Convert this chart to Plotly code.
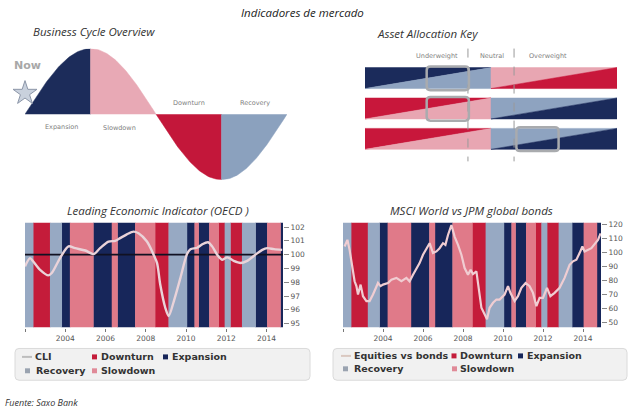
import numpy as np
import plotly.graph_objects as go

W, H = 635, 412
def px(x): return x / W
def py(y): return 1 - y / H

# ---------------- data ----------------
# Business cycle schematic
cycle_phases = ["Expansion", "Slowdown", "Downturn", "Recovery"]
now_phase_position = 0.0          # position of the "Now" star on the cycle (radians)

# Asset allocation key
assets = ["Bonds", "Credit", "Equities"]
stances = ["Underweight", "Neutral", "Overweight"]
stance_scale = [0.57, 1.01, 1.45]             # where stance headers sit on 0..2 scale
stance_dividers = [0.817, 1.183]
current_position = [0.657, 0.657, 1.369]       # highlighted box centre per asset
# two-tone halves (upper-left, lower-right) per asset, as phase names
left_half = [("Expansion", "Recovery"), ("Downturn", "Slowdown"), ("Downturn", "Slowdown")]
right_half = [("Slowdown", "Downturn"), ("Recovery", "Expansion"), ("Recovery", "Expansion")]

# Phase bands (shared by both bottom charts)
phase_edges = [2002.0, 2002.41, 2003.25, 2003.83, 2004.24, 2005.40, 2006.32, 2006.60,
               2007.48, 2008.47, 2009.14, 2010.05, 2010.43, 2010.63, 2011.16, 2011.63,
               2011.93, 2012.21, 2012.79, 2013.46, 2014.04, 2014.70, 2014.95]
phase_seq = ["Recovery", "Downturn", "Recovery", "Expansion", "Slowdown", "Expansion",
             "Slowdown", "Expansion", "Slowdown", "Downturn", "Recovery", "Expansion",
             "Slowdown", "Expansion", "Slowdown", "Downturn", "Recovery", "Downturn",
             "Recovery", "Expansion", "Slowdown", "Expansion"]

# OECD CLI
cli_x = [2002.00, 2002.25, 2002.41, 2002.75, 2003.16, 2003.33, 2003.74, 2004.16, 2004.49,
         2005.00, 2005.40, 2005.73, 2006.15, 2006.48, 2006.73, 2007.06, 2007.39, 2007.64,
         2008.06, 2008.39, 2008.56, 2008.72, 2008.97, 2009.14, 2009.39, 2009.72, 2010.05,
         2010.22, 2010.55, 2010.80, 2011.10, 2011.30, 2011.55, 2011.80, 2012.05, 2012.37,
         2012.71, 2013.04, 2013.45, 2013.79, 2014.04, 2014.37, 2014.78]
cli_y = [99.15, 99.75, 99.5, 98.9, 98.5, 98.67, 99.75, 100.6, 100.47,
         100.3, 100.04, 100.47, 100.95, 101.0, 101.2, 101.47, 101.67, 101.55,
         100.95, 100.0, 99.4, 97.83, 96.15, 95.55, 96.6, 98.3, 100.04,
         100.4, 100.5, 100.75, 100.9, 100.6, 100.0, 99.63, 99.8, 99.55,
         99.4, 99.55, 100.0, 100.35, 100.47, 100.4, 100.35]
cli_reference = 100

# MSCI World vs JPM global bonds
eq_x = [2002.08, 2002.22, 2002.33, 2002.45, 2002.58, 2002.67, 2002.75, 2002.88, 2003.00,
        2003.17, 2003.33, 2003.50, 2003.67, 2003.75, 2003.88, 2004.00, 2004.25, 2004.42,
        2004.67, 2004.92, 2005.17, 2005.33, 2005.50, 2005.67, 2005.83, 2006.00, 2006.17,
        2006.33, 2006.50, 2006.67, 2006.83, 2007.00, 2007.12, 2007.25, 2007.42, 2007.50,
        2007.58, 2007.75, 2007.92, 2008.08, 2008.25, 2008.38, 2008.50, 2008.67, 2008.80,
        2008.92, 2009.08, 2009.20, 2009.33, 2009.50, 2009.67, 2009.83, 2010.08, 2010.25,
        2010.37, 2010.58, 2010.75, 2010.92, 2011.13, 2011.33, 2011.50, 2011.67, 2011.83,
        2012.00, 2012.20, 2012.37, 2012.58, 2012.83, 2013.08, 2013.33, 2013.50, 2013.67,
        2013.83, 2013.97, 2014.08, 2014.25, 2014.42, 2014.58, 2014.75, 2014.88]
eq_y = [104.2, 109.0, 101.8, 91.1, 79.3, 75.8, 69.8, 76.9, 68.6,
        65.1, 65.1, 69.8, 75.8, 78.1, 75.8, 76.9, 78.1, 80.5,
        81.7, 79.3, 81.7, 79.3, 84.0, 88.8, 92.3, 98.3, 103.0,
        106.6, 99.5, 100.7, 103.0, 106.6, 105.4, 112.5, 119.6, 114.9,
        111.3, 105.4, 98.3, 88.8, 84.0, 87.6, 84.5, 86.4, 72.2,
        60.3, 55.6, 52.0, 60.3, 63.9, 66.2, 66.2, 69.8, 75.8,
        71.0, 65.1, 68.6, 74.6, 78.1, 75.8, 71.0, 61.5, 67.4,
        67.4, 74.6, 68.6, 71.0, 74.6, 81.7, 91.1, 93.6, 94.7,
        99.5, 104.2, 100.7, 101.8, 103.0, 105.9, 108.9, 113.7]

year_ticks = [2002, 2004, 2006, 2008, 2010, 2012, 2014]
year_labels = ["", "2004", "2006", "2008", "2010", "2012", "2014"]
cli_ticks = [95, 96, 97, 98, 99, 100, 101, 102]
eq_ticks = [50, 60, 70, 80, 90, 100, 110, 120]

# ---------------- styles ----------------
cycle_colors = {"Expansion": "#1c2c5a", "Slowdown": "#e8a9b5",
                "Downturn": "#c3173a", "Recovery": "#8ba1be"}
key_colors = {"Expansion": "#1b2b5b", "Slowdown": "#e8a6b2",
              "Downturn": "#c8173b", "Recovery": "#8ea3c0"}
band_colors = {"Downturn": "#c41c3a", "Expansion": "#17265a",
               "Recovery": "#97a9c3", "Slowdown": "#e07a89"}

TITLE = dict(family="Open Sans", size=11.5, color="#333333", style="italic")
SMALL = dict(family="DejaVu Sans", size=6.5, color="#808080")
TICK = dict(family="DejaVu Sans", size=7.5, color="#555555")
LEG = dict(family="DejaVu Sans", size=9.5, color="#333333", weight="bold")

fig = go.Figure()

# ---------------- business cycle ----------------
for k, ph in enumerate(cycle_phases):
    t = np.linspace(k * np.pi / 2, (k + 1) * np.pi / 2, 60)
    xs = np.concatenate([[t[0]], t, [t[-1]]])
    ys = np.concatenate([[0], np.sin(t), [0]])
    fig.add_trace(go.Scatter(x=xs, y=ys, fill="toself", mode="lines",
                             line=dict(width=0.5, color=cycle_colors[ph]),
                             fillcolor=cycle_colors[ph], xaxis="x3", yaxis="y3",
                             showlegend=False, hoverinfo="skip"))
fig.add_trace(go.Scatter(x=[now_phase_position], y=[0.32], mode="markers",
                         marker=dict(symbol="star", size=18, color="#c9d1dd",
                                     line=dict(color="#8c96a8", width=1)),
                         xaxis="x3", yaxis="y3", cliponaxis=False,
                         showlegend=False, hoverinfo="skip"))

ann = []
def A(text, x, y, font, xref="paper", yref="paper", xanchor="center", yanchor="middle"):
    ann.append(dict(text=text, x=x, y=y, xref=xref, yref=yref, showarrow=False,
                    font=font, xanchor=xanchor, yanchor=yanchor))

cyc_label_xy = [(0.887, -0.20), (2.26, -0.21), (3.93, 0.17), (5.52, 0.17)]
for ph, (lx, ly) in zip(cycle_phases, cyc_label_xy):
    A(ph, lx, ly, SMALL, "x3", "y3")
A("Now", 0.07, 0.74, dict(family="DejaVu Sans", size=11, color="#a8a8a8", weight="bold"),
  "x3", "y3")

# ---------------- asset allocation key ----------------
hh = 0.345
for i, asset in enumerate(assets):
    top, bot = i - hh, i + hh
    for h, pair in ((0, left_half[i]), (1, right_half[i])):
        ul, lr = pair
        fig.add_trace(go.Scatter(x=[h, h, h + 1, h], y=[bot, top, top, bot], fill="toself",
                                 mode="lines", line=dict(width=0.5, color=key_colors[ul]),
                                 fillcolor=key_colors[ul], xaxis="x4", yaxis="y4",
                                 showlegend=False, hoverinfo="skip"))
        fig.add_trace(go.Scatter(x=[h, h + 1, h + 1, h], y=[bot, top, bot, bot], fill="toself",
                                 mode="lines", line=dict(width=0.5, color=key_colors[lr]),
                                 fillcolor=key_colors[lr], xaxis="x4", yaxis="y4",
                                 showlegend=False, hoverinfo="skip"))
    A(asset, -0.262, i - 0.1, SMALL, "x4", "y4", xanchor="left")

for s, sx in zip(stances, stance_scale):
    A(s, sx, -0.74, SMALL, "x4", "y4")

shapes = []
for dx in stance_dividers:
    shapes.append(dict(type="line", xref="x4", yref="y4", x0=dx, x1=dx, y0=-0.97, y1=2.74,
                       line=dict(color="#9a9a9a", width=1, dash="dash"), layer="above"))

def rpath(x0, y0, x1, y1, rx, ry):
    return (f"M {x0+rx},{y0} L {x1-rx},{y0} Q {x1},{y0} {x1},{y0+ry} "
            f"L {x1},{y1-ry} Q {x1},{y1} {x1-rx},{y1} L {x0+rx},{y1} "
            f"Q {x0},{y1} {x0},{y1-ry} L {x0},{y0+ry} Q {x0},{y0} {x0+rx},{y0} Z")

bw = 0.335
for i, c in enumerate(current_position):
    shapes.append(dict(type="path", xref="x4", yref="y4",
                       path=rpath(c - bw / 2, i - 0.38, c + bw / 2, i + 0.40, 0.03, 0.12),
                       line=dict(color="#a9abae", width=2.5), layer="above"))

# ---------------- bottom charts ----------------
seam = 0.02   # small overlap so neighbouring bands leave no hairline gaps
charts = [("x", "y", [94.71, 102.34]), ("x2", "y2", [46.1, 121.5])]
for xa, ya, (lo, hi) in charts:
    for ph in ["Downturn", "Expansion", "Recovery", "Slowdown"]:
        idx = [i for i, p in enumerate(phase_seq) if p == ph]
        centers = [(phase_edges[i] + phase_edges[i + 1]) / 2 for i in idx]
        widths = [phase_edges[i + 1] - phase_edges[i] + seam for i in idx]
        fig.add_trace(go.Bar(x=centers, y=[hi - lo] * len(idx), base=lo, width=widths,
                             marker=dict(color=band_colors[ph], line=dict(width=0)),
                             xaxis=xa, yaxis=ya, showlegend=False, hoverinfo="skip"))

xr_left = [2002.0, 2014.82]
xr_right = [2002.0, 2014.9]
fig.add_trace(go.Scatter(x=xr_left, y=[cli_reference, cli_reference], mode="lines",
                         line=dict(color="#111122", width=1.6), xaxis="x", yaxis="y",
                         showlegend=False, hoverinfo="skip"))
fig.add_trace(go.Scatter(x=cli_x, y=cli_y, mode="lines",
                         line=dict(color="#ead3d9", width=2.4, shape="spline", smoothing=0.8),
                         xaxis="x", yaxis="y", showlegend=False, name="CLI"))
fig.add_trace(go.Scatter(x=eq_x, y=eq_y, mode="lines",
                         line=dict(color="#f0cdd2", width=2.2),
                         xaxis="x2", yaxis="y2", showlegend=False, name="Equities vs bonds"))

# titles
A("Indicadores de mercado", px(302.5), py(11), dict(TITLE, color="#222222"))
A("Business Cycle Overview", px(93.5), py(29.5), TITLE)
A("Asset Allocation Key", px(427.5), py(31.5), TITLE)
A("Leading Economic Indicator (OECD )", px(158), py(210), TITLE)
A("MSCI World vs JPM global bonds", px(471.5), py(210), TITLE)
A("Fuente: Saxo Bank", px(3), py(403), dict(family="Open Sans", size=9, color="#333333",
                                              style="italic"), xanchor="left")

# legends (drawn)
def legend_box(x0, x1, y0, y1):
    shapes.append(dict(type="path", xref="paper", yref="paper",
                       path=rpath(px(x0), py(y1), px(x1), py(y0), 4 / W, 4 / H),
                       fillcolor="#f1f1f1", line=dict(color="#dadada", width=1), layer="above"))

def leg_line(x0, x1, y, color):
    shapes.append(dict(type="line", xref="paper", yref="paper", x0=px(x0), x1=px(x1),
                       y0=py(y), y1=py(y), line=dict(color=color, width=2), layer="above"))

def leg_sq(x0, y, color, s=5):
    shapes.append(dict(type="rect", xref="paper", yref="paper", x0=px(x0), x1=px(x0 + s),
                       y0=py(y + s / 2), y1=py(y - s / 2), fillcolor=color,
                       line=dict(width=0), layer="above"))

legend_box(15, 310, 349, 381)
leg_line(22, 32, 357.5, "#bdbdbd"); A("CLI", px(33), py(357.5), LEG, xanchor="left")
leg_sq(92, 357.5, band_colors["Downturn"]); A("Downturn", px(98.5), py(357.5), LEG, xanchor="left")
leg_sq(163, 357.5, band_colors["Expansion"]); A("Expansion", px(169.5), py(357.5), LEG, xanchor="left")
leg_sq(25, 371.5, "#9aa3b0"); A("Recovery", px(33.5), py(371.5), LEG, xanchor="left")
leg_sq(92, 371.5, "#e08a98"); A("Slowdown", px(98.5), py(371.5), LEG, xanchor="left")

legend_box(333, 627, 349, 381)
leg_line(341, 351, 356.5, "#dac8c0"); A("Equities vs bonds", px(351.5), py(356.5), LEG, xanchor="left")
leg_sq(451.5, 356.5, band_colors["Downturn"]); A("Downturn", px(457.5), py(356.5), LEG, xanchor="left")
leg_sq(518, 356.5, band_colors["Expansion"]); A("Expansion", px(524.5), py(356.5), LEG, xanchor="left")
leg_sq(343, 369.5, "#9aa3b0"); A("Recovery", px(352), py(369.5), LEG, xanchor="left")
leg_sq(452, 369.5, "#e08a98"); A("Slowdown", px(458), py(369.5), LEG, xanchor="left")

# ---------------- layout ----------------
ydom = [py(328), py(222)]
xax_common = dict(showgrid=False, zeroline=False, showline=False, ticks="outside", ticklen=3,
                  tickcolor="#777777", tickvals=year_ticks, ticktext=year_labels,
                  tickfont=TICK, fixedrange=True)
yax_common = dict(showgrid=False, zeroline=False, showline=False, side="right",
                  ticks="outside", ticklen=5, tickcolor="#888888", tickfont=TICK, fixedrange=True)

fig.update_layout(
    width=W, height=H, margin=dict(l=0, r=0, t=0, b=0),
    paper_bgcolor="white", plot_bgcolor="rgba(0,0,0,0)",
    barmode="overlay", showlegend=False,
    xaxis=dict(xax_common, domain=[px(25), px(283)], range=xr_left),
    yaxis=dict(yax_common, domain=ydom, range=[94.71, 102.34], tickvals=cli_ticks),
    xaxis2=dict(xax_common, domain=[px(343), px(601)], range=xr_right, anchor="y2"),
    yaxis2=dict(yax_common, domain=ydom, range=[46.1, 121.5], tickvals=eq_ticks, anchor="x2"),
    xaxis3=dict(domain=[px(25), px(287)], range=[0, 2 * np.pi], visible=False, anchor="y3",
                fixedrange=True),
    yaxis3=dict(domain=[py(179), py(47)], range=[-1, 1], visible=False, anchor="x3",
                fixedrange=True),
    xaxis4=dict(domain=[px(365), px(617)], range=[0, 2], visible=False, anchor="y4",
                fixedrange=True),
    yaxis4=dict(domain=[py(168.5), py(46)], range=[3, -1], visible=False, anchor="x4",
                fixedrange=True),
    annotations=ann, shapes=shapes,
)

fig.write_html("out.html")
